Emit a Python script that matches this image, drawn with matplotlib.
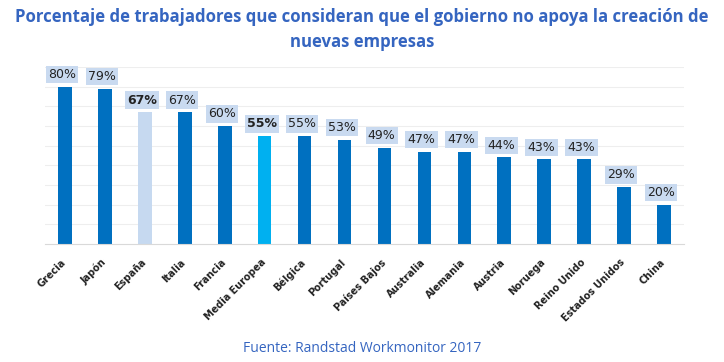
import matplotlib
matplotlib.use("Agg")
import matplotlib.pyplot as plt
from matplotlib.transforms import ScaledTranslation

categories = ["Grecia", "Japón", "España", "Italia", "Francia", "Media Europea", "Bélgica",
              "Portugal", "Países Bajos", "Australia", "Alemania", "Austria", "Noruega",
              "Reino Unido", "Estados Unidos", "China"]
values = [80, 79, 67, 67, 60, 55, 55, 53, 49, 47, 47, 44, 43, 43, 29, 20]
highlight = {"España": "#c6d9f0", "Media Europea": "#00b0f0"}
base_color = "#0070c0"

fig = plt.figure(figsize=(7.24, 3.62), dpi=100)
ax = fig.add_axes([45/724, 1-244/362, 639/724, 177/362])

x = list(range(len(categories)))
colors = [highlight.get(c, base_color) for c in categories]
ax.bar(x, values, width=0.34, color=colors, zorder=2)

ax.set_xlim(-0.5, len(categories) - 0.5)
ax.set_ylim(0, 90)
ax.set_yticks(range(10, 91, 10))
ax.yaxis.grid(True, color="#eeeeee", linewidth=0.8, zorder=0)
ax.tick_params(axis="y", left=False, labelleft=False)
ax.tick_params(axis="x", length=0, pad=9.5)
for s in ["top", "right", "left"]:
    ax.spines[s].set_visible(False)
ax.spines["bottom"].set_color("#d9d9d9")

ax.set_xticks(x)
ax.set_xticklabels(categories, rotation=45, ha="right", rotation_mode="anchor",
                   fontsize=7, fontweight="bold", color="#222222", family="DejaVu Sans")
offset = ScaledTranslation(-4/100, 0, fig.dpi_scale_trans)
for lab in ax.get_xticklabels():
    lab.set_transform(lab.get_transform() + offset)

for xi, v, c in zip(x, values, categories):
    bold = c in highlight
    ax.annotate(f"{v}%", (xi, v), xytext=(-2, 4), textcoords="offset points",
                ha="center", va="bottom", fontsize=9,
                fontweight="bold" if bold else "normal", color="#222222",
                family="DejaVu Sans",
                bbox=dict(boxstyle="square,pad=0.18", fc="#c9daf0", ec="none"))

fig.text(0.5, 1-17/362, "Porcentaje de trabajadores que consideran que el gobierno no apoya la creación de",
         ha="center", va="center", fontsize=12.1, fontweight="bold", color="#3565c0", family="Open Sans")
fig.text(0.5, 1-42/362, "nuevas empresas",
         ha="center", va="center", fontsize=12.1, fontweight="bold", color="#3565c0", family="Open Sans")
fig.text(0.5, 1-349/362, "Fuente: Randstad Workmonitor 2017",
         ha="center", va="center", fontsize=10, color="#3565c0", family="Open Sans")

fig.savefig("out.png", dpi=100, facecolor="white")
